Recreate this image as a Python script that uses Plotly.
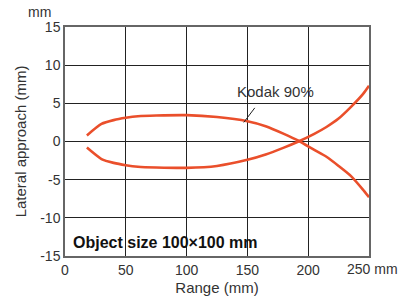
import plotly.graph_objects as go

x_upper = [18, 30, 40, 50, 60, 75, 100, 125, 150, 165, 180, 192, 205, 215, 225, 235, 245, 250]
y_upper = [0.8, 2.3, 2.8, 3.1, 3.3, 3.4, 3.45, 3.2, 2.65, 2.0, 1.0, 0.1, -1.1, -2.0, -3.2, -4.5, -6.3, -7.3]
x_lower = [18, 30, 40, 50, 60, 75, 100, 125, 150, 165, 180, 192, 205, 215, 225, 235, 245, 250]
y_lower = [-0.8, -2.3, -2.8, -3.1, -3.3, -3.4, -3.45, -3.2, -2.4, -1.7, -0.8, 0.0, 1.0, 1.9, 3.0, 4.5, 6.2, 7.3]

x_ticks = [0, 50, 100, 150, 200, 250]
x_labels = ["0", "50", "100", "150", "200", ""]
y_ticks = [-15, -10, -5, 0, 5, 10, 15]
y_labels = ["-15", "-10", "-5", "0", "5", "10", "15"]

line_color = "#ea4f2b"
txt = "#333333"
font = "Liberation Sans, Arial, sans-serif"

fig = go.Figure()
fig.add_trace(go.Scatter(x=x_upper, y=y_upper, mode="lines", line=dict(color=line_color, width=2.6, shape="spline", smoothing=0.6), showlegend=False, hoverinfo="skip"))
fig.add_trace(go.Scatter(x=x_lower, y=y_lower, mode="lines", line=dict(color=line_color, width=2.6, shape="spline", smoothing=0.6), showlegend=False, hoverinfo="skip"))

fig.update_layout(
    template="none",
    width=399, height=300,
    margin=dict(l=65, r=30, t=27, b=44, autoexpand=False),
    paper_bgcolor="white", plot_bgcolor="white",
    font=dict(family=font, size=14, color=txt),
    xaxis=dict(range=[0, 250], tickmode="array", tickvals=x_ticks, ticktext=x_labels, showgrid=True, gridcolor="#222222", gridwidth=1,
               showline=True, linecolor="#666666", linewidth=1.5, mirror=True, zeroline=False, ticks="",
               tickfont=dict(size=14, color=txt), automargin=False,
               title=dict(text="Range (mm)", font=dict(size=15, color=txt), standoff=6)),
    yaxis=dict(range=[-15, 15], tickmode="array", tickvals=y_ticks, ticktext=y_labels, showgrid=True, gridcolor="#222222", gridwidth=1,
               showline=True, linecolor="#666666", linewidth=1.5, mirror=True, zeroline=False, ticks="",
               tickfont=dict(size=14, color=txt), automargin=False,
               title=dict(text="Lateral approach (mm)", font=dict(size=15, color=txt), standoff=10)),
)

fig.add_annotation(x=250, y=-15, xref="x", yref="y", text="250 mm", showarrow=False,
                   xanchor="right", yanchor="top", xshift=31, yshift=-3, font=dict(size=14, color=txt))
fig.add_annotation(x=0, y=15, xref="x", yref="y", text="mm", showarrow=False,
                   xanchor="right", yanchor="bottom", xshift=-12, yshift=5, font=dict(size=14, color=txt))
fig.add_annotation(x=147, y=2.5, xref="x", yref="y", ax=157, ay=4.6, axref="x", ayref="y",
                   text="", showarrow=True, arrowhead=0, arrowwidth=1, arrowcolor="#222222")
fig.add_annotation(x=173, y=6.5, xref="x", yref="y", text="Kodak 90%", showarrow=False,
                   xanchor="center", yanchor="middle", font=dict(size=15, color=txt))
fig.add_annotation(x=0, y=-15, xref="x", yref="y", text="<b>Object size 100×100 mm</b>", showarrow=False,
                   xanchor="left", yanchor="bottom", xshift=6, yshift=3, font=dict(size=16, color="#111111"))

fig.write_html("out.html", config={"displayModeBar": False},
               post_script="document.body.style.margin='0';document.body.style.overflow='hidden';")
